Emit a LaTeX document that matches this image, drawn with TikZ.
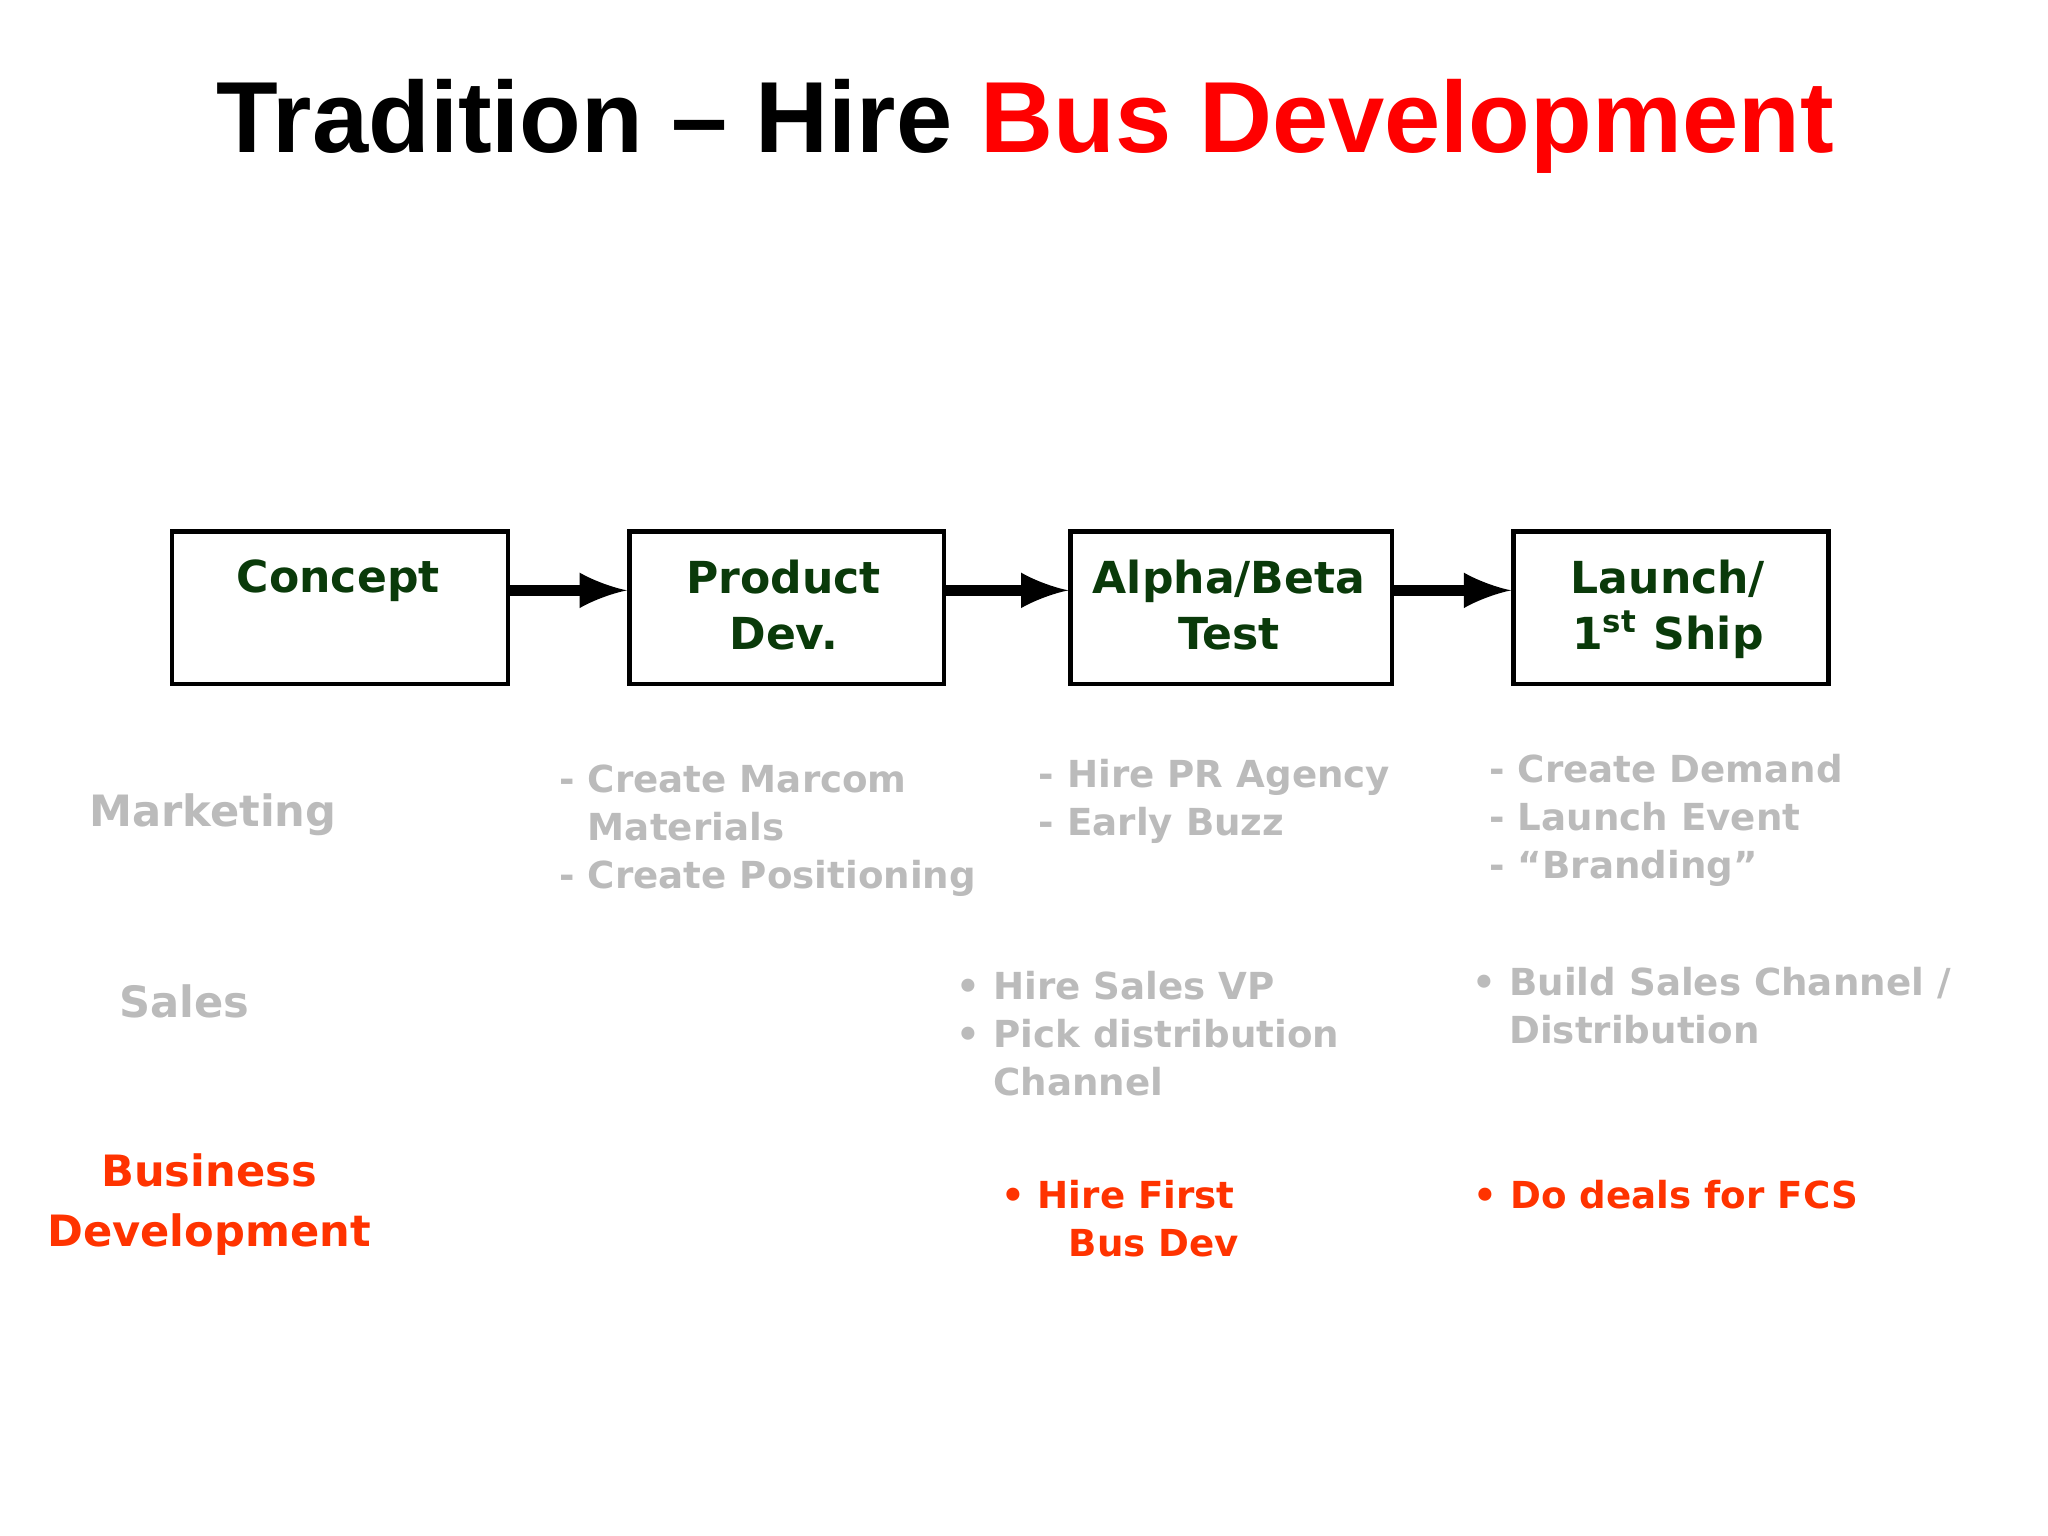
\documentclass[tikz,border=0pt]{standalone}
\usepackage{fontspec}
\setmainfont{DejaVu Sans}
\newfontfamily\titlefont{Liberation Sans}
\definecolor{boxgreen}{HTML}{0A3A0A}
\definecolor{lgray}{HTML}{BBBBBB}
\definecolor{bdred}{HTML}{FF3300}
\begin{document}
\begin{tikzpicture}[x=0.01cm,y=-0.01cm,
  stage/.style={draw,line width=1pt,anchor=north west,minimum height=1.17cm,inner sep=0pt},
  stagetxt/.style={font=\bfseries\fontsize{9.6}{12.3}\selectfont,text=boxgreen,align=center,anchor=north},
  flow/.style={-latex,line width=2.5pt},
  graytxt/.style={font=\bfseries\fontsize{8.1}{10.5}\selectfont,text=lgray,align=left,anchor=north west},
  redtxt/.style={font=\bfseries\fontsize{8.1}{10.5}\selectfont,text=bdred,align=left,anchor=north west},
  lbl/.style={font=\bfseries\fontsize{9.4}{13}\selectfont,align=center}]
\useasboundingbox (0,0) rectangle (1568,1176);
\node[font=\titlefont\bfseries\fontsize{22}{26}\selectfont] (title) at (785,97) {Tradition – Hire \textcolor{red}{Bus Development}};
\node[stage,minimum width=2.57cm] (c) at (130,405) {};
\node[stage,minimum width=2.41cm] (p) at (480,405) {};
\node[stage,minimum width=2.46cm] (a) at (818,405) {};
\node[stage,minimum width=2.41cm] (l) at (1157,405) {};
\node[stagetxt] (ct) at (259,416) {Concept};
\node[stagetxt] (pt) at (600,416) {Product\\Dev.};
\node[stagetxt] (at) at (941,416) {Alpha/Beta\\Test};
\node[stagetxt] (lt) at (1277,416) {Launch/\\1\textsuperscript{st} Ship};
\draw[flow] (c.east |- 0,452) -- (p.west |- 0,452);
\draw[flow] (p.east |- 0,452) -- (a.west |- 0,452);
\draw[flow] (a.east |- 0,452) -- (l.west |- 0,452);
\node[lbl,text=lgray] (mk) at (163,624) {Marketing};
\node[lbl,text=lgray] (sl) at (141,767) {Sales};
\node[lbl,text=bdred] (bd) at (160,922) {Business\\Development};
\node[graytxt] (m1) at (416,573) {- Create Marcom\\\phantom{- }Materials\\- Create Positioning};
\node[graytxt] (m2) at (783,569) {- Hire PR Agency\\- Early Buzz};
\node[graytxt] (m3) at (1128,565) {- Create Demand\\- Launch Event\\- ``Branding''};
\node[graytxt] (s1) at (720,731) {• Hire Sales VP\\• Pick distribution\\\phantom{• }Channel};
\node[graytxt] (s2) at (1115,728) {• Build Sales Channel /\\\phantom{• }Distribution};
\node[redtxt] (b1) at (754,891) {• Hire First\\\phantom{• H}Bus Dev};
\node[redtxt] (b2) at (1116,891) {• Do deals for FCS};
\end{tikzpicture}
\end{document}
